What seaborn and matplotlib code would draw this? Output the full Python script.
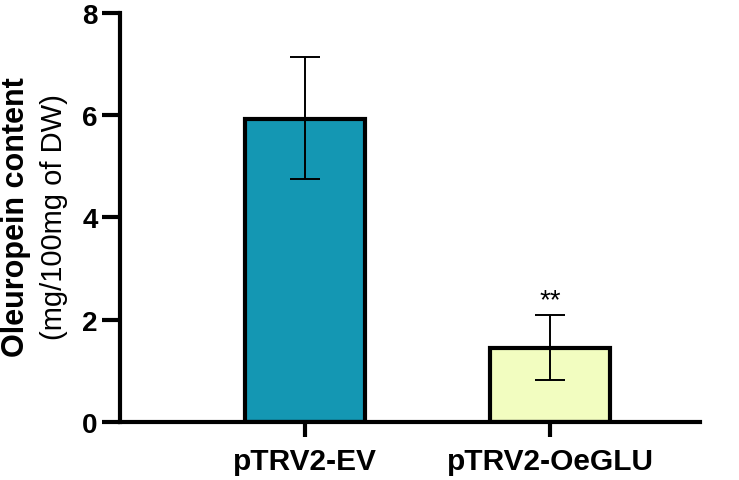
import matplotlib
matplotlib.use("Agg")
import matplotlib.pyplot as plt
import seaborn as sns
import pandas as pd

# data
groups = ["pTRV2-EV", "pTRV2-OeGLU"]
means = [5.93, 1.45]
err_low = [4.76, 0.83]
err_high = [7.13, 2.10]
bar_colors = ["#1497B3", "#F2FDC0"]
signif = ["", "**"]

sns.set_style("ticks")
plt.rcParams["font.family"] = ["Liberation Sans", "DejaVu Sans"]
plt.rcParams["text.color"] = "black"
plt.rcParams["xtick.color"] = "black"
plt.rcParams["ytick.color"] = "black"
plt.rcParams["axes.edgecolor"] = "black"

df = pd.DataFrame({"group": groups, "mean": means})

fig = plt.figure(figsize=(7.39, 4.81), dpi=100)
ax = fig.add_axes([0.1624, 0.1206, 0.7846, 0.8504])

sns.barplot(data=df, x="group", y="mean", hue="group", palette=bar_colors,
            legend=False, width=0.49, edgecolor="black", linewidth=3,
            saturation=1, errorbar=None, ax=ax)

# error bars (asymmetric, as drawn)
for i, m in enumerate(means):
    ax.errorbar(i, m, yerr=[[m - err_low[i]], [err_high[i] - m]],
                fmt="none", ecolor="black", elinewidth=1.4, capsize=11,
                capthick=1.4, zorder=5)
    if signif[i]:
        ax.text(i, err_high[i] + 0.02, signif[i], ha="center", va="bottom",
                fontsize=20, color="black")

ax.set_xlim(-0.755, 1.61)
ax.set_ylim(0, 8)
ax.set_yticks([0, 2, 4, 6, 8])
ax.set_xlabel("")
ax.set_ylabel("")

for side in ["top", "right"]:
    ax.spines[side].set_visible(False)
for side in ["left", "bottom"]:
    ax.spines[side].set_linewidth(3)
ax.tick_params(axis="y", width=3, length=13, labelsize=20, pad=3)
ax.tick_params(axis="x", width=3, length=11, labelsize=21.5, pad=7)
for lab in ax.get_xticklabels() + ax.get_yticklabels():
    lab.set_fontweight("bold")

fig.text(0.022, 0.549, "Oleuropein content", rotation=90, ha="center",
         va="center", fontsize=22, fontweight="bold")
fig.text(0.073, 0.549, "(mg/100mg of DW)", rotation=90, ha="center",
         va="center", fontsize=21)

fig.savefig("out.png", dpi=100)
